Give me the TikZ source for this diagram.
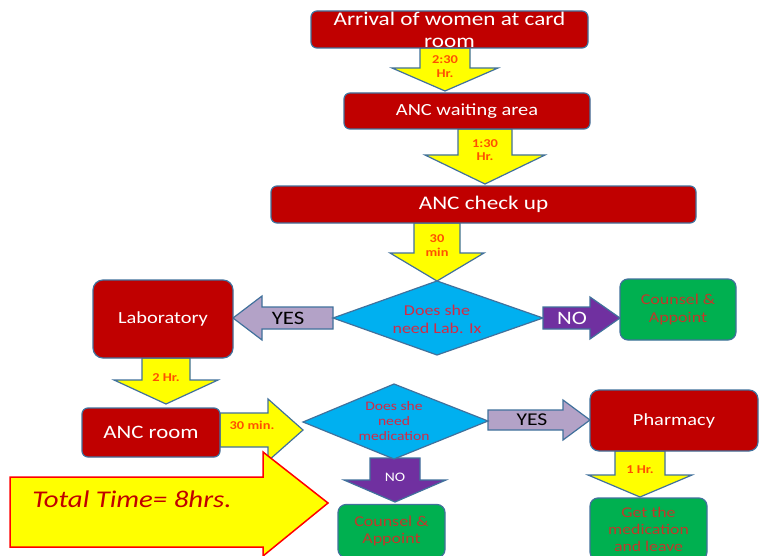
\documentclass[tikz,border=0pt]{standalone}
\usepackage{fontspec}
\setmainfont{Carlito}[FakeStretch=1.2]
\definecolor{boxred}{HTML}{C00000}
\definecolor{edgec}{HTML}{41719C}
\definecolor{ylw}{HTML}{FFFF00}
\definecolor{cyanf}{HTML}{00B0F0}
\definecolor{lav}{HTML}{B3A2C7}
\definecolor{purp}{HTML}{7030A0}
\definecolor{grn}{HTML}{00B050}
\definecolor{lbl}{HTML}{FF5000}
\definecolor{txtred}{HTML}{D42A45}
\definecolor{grntxt}{HTML}{C0392B}
\newcommand\barrowdown[7]{% style, cx, ytop, yhead, ytip, shaft half, head half
  \draw[#1] ({#2-#6},#3) -- ({#2+#6},#3) -- ({#2+#6},#4) -- ({#2+#7},#4) -- (#2,#5)
    -- ({#2-#7},#4) -- ({#2-#6},#4) -- cycle;}
\newcommand\barrowh[7]{% style, cy, xstart, xhead, xtip, shaft half, head half
  \draw[#1] (#3,{#2-#6}) -- (#4,{#2-#6}) -- (#4,{#2-#7}) -- (#5,#2) -- (#4,{#2+#7})
    -- (#4,{#2+#6}) -- (#3,{#2+#6}) -- cycle;}
\tikzset{
  redbox/.style={draw=edgec, line width=1.2pt, fill=boxred, rounded corners=6pt, inner sep=0pt, text=white},
  grnbox/.style={draw=edgec, line width=1.2pt, fill=grn, rounded corners=8pt, inner sep=0pt, text=grntxt, align=center},
  yarrow/.style={draw=edgec, line width=1.2pt, fill=ylw},
  larrow/.style={draw=edgec, line width=1.2pt, fill=lav},
  parrow/.style={draw=edgec, line width=1.2pt, fill=purp},
  dia/.style={draw=edgec, line width=1.2pt, fill=cyanf},
  tlabel/.style={text=lbl, font=\fontsize{12}{13.5}\selectfont\bfseries, align=center, inner sep=0pt},
  dtext/.style={text=txtred, align=center, inner sep=0pt},
}
\begin{document}
\begin{tikzpicture}[x=1pt,y=-1pt]
\useasboundingbox (0,0) rectangle (762,556);
\fill[white] (0,0) rectangle (762,556);
% block arrows
\barrowdown{yarrow}{445}{48}{68}{91}{25}{53}
\barrowdown{yarrow}{485}{129}{155}{184}{27}{60}
\barrowdown{yarrow}{437}{223}{253}{281}{23}{47}
\barrowh{larrow}{318}{333}{262}{233}{11}{22}
\barrowh{parrow}{318}{543}{590}{620}{11}{21}
\barrowdown{yarrow}{166}{358}{380}{404}{24}{52}
\barrowh{yarrow}{430}{220}{268}{303}{17}{31}
\barrowh{larrow}{420}{488}{563}{590}{10}{20}
\barrowdown{parrow}{395}{458}{480}{502}{25}{51}
\barrowdown{yarrow}{640}{451}{475}{497}{25}{52}
% big arrow
\draw[draw=red, line width=1.5pt, fill=ylw] (10,477) -- (263,477) -- (263,452) -- (328,503)
  -- (263,556) -- (263,547) -- (10,547) -- cycle;
\node[text=boxred, font=\fontsize{24}{28}\selectfont\itshape, inner sep=0pt] (total) at (132,499) {Total Time= 8hrs.};
% diamonds
\draw[dia] (333,318) -- (437,281) -- (543,318) -- (437,355) -- cycle;
\draw[dia] (303,422) -- (394,384) -- (488,421) -- (394,459) -- cycle;
\node[dtext, font=\fontsize{15}{18}\selectfont] (d1) at (437,319) {Does she\\need Lab. Ix};
\node[dtext, font=\fontsize{13}{15}\selectfont] (d2) at (394,421) {Does she\\need\\medication};
% boxes
\node[redbox, minimum width=277pt, minimum height=37pt] (arr) at (449.5,29.5) {};
\node[text=white, font=\fontsize{19.3}{22}\selectfont, align=center, inner sep=0pt] (arrt) at (449.5,30) {Arrival of women at card\\room};
\node[redbox, minimum width=246pt, minimum height=36pt, font=\fontsize{17}{20}\selectfont] (wait) at (467,111) {ANC waiting area};
\node[redbox, minimum width=425pt, minimum height=37pt, font=\fontsize{19.3}{22}\selectfont] (check) at (483.5,204.5) {ANC check up};
\node[redbox, rounded corners=10pt, minimum width=140pt, minimum height=78pt, font=\fontsize{17}{20}\selectfont] (lab) at (163,319) {Laboratory};
\node[grnbox, minimum width=116pt, minimum height=61pt, font=\fontsize{15}{18}\selectfont] (c1) at (678,309.5) {Counsel \&\\Appoint};
\node[redbox, minimum width=138pt, minimum height=49pt, font=\fontsize{19}{22}\selectfont] (room) at (151,432.5) {ANC room};
\node[redbox, rounded corners=9pt, minimum width=168pt, minimum height=61pt, font=\fontsize{17}{20}\selectfont] (pharm) at (674,420.5) {Pharmacy};
\node[grnbox, minimum width=107pt, minimum height=53pt, font=\fontsize{15}{17}\selectfont] (c2) at (391.5,531) {Counsel \&\\Appoint};
\node[grnbox, minimum width=117pt, minimum height=62pt, font=\fontsize{14.8}{17}\selectfont] (get) at (648.5,529) {Get the\\medication\\and leave};
% arrow labels
\node[tlabel] (l1) at (445,66.5) {2:30\\Hr.};
\node[tlabel] (l2) at (485,150) {1:30\\Hr.};
\node[tlabel] (l3) at (437,245.5) {30\\min};
\node[tlabel] (l4) at (166,378) {2 Hr.};
\node[tlabel] (l5) at (252,425) {30 min.};
\node[tlabel] (l6) at (640,470) {1 Hr.};
\node[font=\fontsize{19}{22}\selectfont, inner sep=0pt] (yes1) at (288,318) {YES};
\node[text=white, font=\fontsize{19}{22}\selectfont, inner sep=0pt] (no1) at (572,318) {NO};
\node[font=\fontsize{18}{21}\selectfont, inner sep=0pt] (yes2) at (532,420) {YES};
\node[text=white, font=\fontsize{13}{15}\selectfont, inner sep=0pt] (no2) at (395,477) {NO};
\end{tikzpicture}
\end{document}
